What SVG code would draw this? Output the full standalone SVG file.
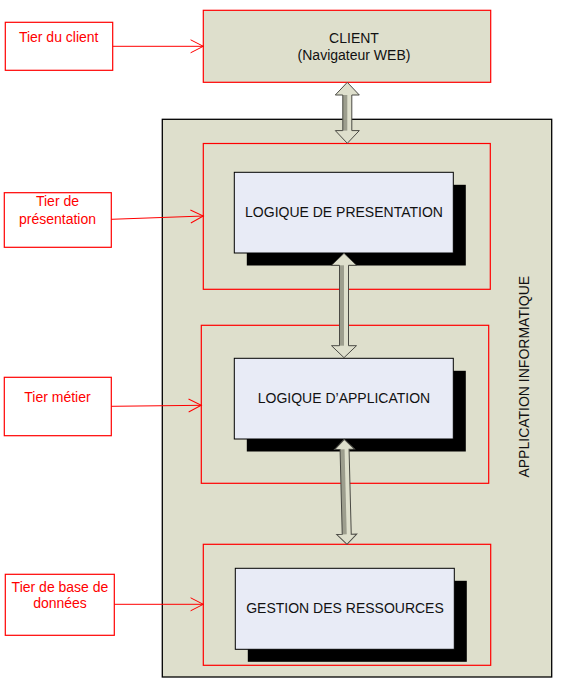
<svg xmlns="http://www.w3.org/2000/svg" width="563" height="684" viewBox="0 0 563 684">
<style>
  .tier { fill: #ffffff; stroke: #ff0000; stroke-width: 1.2; }
  .tiertxt { fill: #ff0000; font-family: "Liberation Sans", Arial, sans-serif; font-size: 14px; text-anchor: middle; }
  .layer { fill: #dedfcc; stroke: #ff0000; stroke-width: 1.2; }
  .outer { fill: #dedfcc; stroke: #000000; stroke-width: 1.3; }
  .box { fill: #e8ebf6; stroke: #000000; stroke-width: 1; }
  .shadow { fill: #000000; }
  .txt { fill: #111111; font-family: "Liberation Sans", Arial, sans-serif; font-size: 14px; text-anchor: middle; }
  .link { fill: none; stroke: #ff0000; stroke-width: 1; marker-end: url(#chev); }
  .dafill { fill: #dedfcc; }
  .dashade { fill: #9d9e8e; }
  .daline { fill: none; stroke: #4a4a44; stroke-width: 1; stroke-linejoin: miter; }
</style>
<defs>
  <marker id="chev" markerUnits="userSpaceOnUse" viewBox="-15 -8 17 16" refX="0" refY="0" markerWidth="17" markerHeight="16" orient="auto">
    <path d="M-12.7,-6.5 L0,0 L-12.7,6.5" fill="none" stroke="#ff0000" stroke-width="1"/>
  </marker>
  <path id="da61" d="M0,0 L12,12.7 L4.5,12.7 L4.5,48.3 L12,48.3 L0,61 L-12,48.3 L-4.5,48.3 L-4.5,12.7 L-12,12.7 Z"/>
  <path id="da104" d="M0,0 L12.5,12 L4.5,12 L4.5,92.4 L12.5,92.4 L0,104.4 L-12.5,92.4 L-4.5,92.4 L-4.5,12 L-12.5,12 Z"/>
  <path id="da105" d="M0,0 L10,10 L4.5,10 L4.5,95 L10,95 L0,105 L-10,95 L-4.5,95 L-4.5,10 L-10,10 Z"/>
</defs>

<g id="application-informatique">
  <rect class="outer" x="162.3" y="119.3" width="389.4" height="557.7"/>
  <text class="txt" transform="translate(529.3,376.7) rotate(-90)">APPLICATION INFORMATIQUE</text>
</g>

<g id="client">
  <rect class="layer" x="203.3" y="10.3" width="287.4" height="72"/>
  <text class="txt" x="354" y="42.7">CLIENT</text>
  <text class="txt" x="354" y="60">(Navigateur WEB)</text>
</g>

<g id="tier-presentation-layer">
  <rect class="layer" x="203.3" y="143.5" width="287" height="145.8"/>
</g>
<g id="logique-presentation">
  <rect class="shadow" x="246.8" y="184.8" width="219" height="80.7"/>
  <rect class="box" x="234.3" y="172.3" width="219" height="80.7"/>
  <text class="txt" x="344" y="216.7">LOGIQUE DE PRESENTATION</text>
</g>

<g id="tier-metier-layer">
  <rect class="layer" x="201.3" y="325.3" width="287.4" height="158"/>
</g>
<g id="logique-application">
  <rect class="shadow" x="246.8" y="370.8" width="219" height="80.7"/>
  <rect class="box" x="234.3" y="358.3" width="219" height="80.7"/>
  <text class="txt" x="344" y="402.7">LOGIQUE D’APPLICATION</text>
</g>

<g id="tier-donnees-layer">
  <rect class="layer" x="203.3" y="544.3" width="287.4" height="121"/>
</g>
<g id="gestion-ressources">
  <rect class="shadow" x="247.8" y="580.8" width="219" height="81"/>
  <rect class="box" x="235.3" y="568.3" width="219" height="81"/>
  <text class="txt" x="345" y="612.7">GESTION DES RESSOURCES</text>
</g>

<g id="tier-du-client">
  <rect class="tier" x="5.3" y="22.3" width="107.4" height="48"/>
  <text class="tiertxt" x="58.7" y="42.3">Tier du client</text>
</g>
<g id="tier-de-presentation">
  <rect class="tier" x="4.3" y="192.7" width="107" height="54.6"/>
  <text class="tiertxt" x="57.5" y="206">Tier de</text>
  <text class="tiertxt" x="57.5" y="224.3">présentation</text>
</g>
<g id="tier-metier">
  <rect class="tier" x="4.3" y="377.3" width="107" height="58.4"/>
  <text class="tiertxt" x="57.5" y="402.3">Tier métier</text>
</g>
<g id="tier-base-donnees">
  <rect class="tier" x="5.3" y="574.3" width="109" height="61"/>
  <text class="tiertxt" x="60" y="591.7">Tier de base de</text>
  <text class="tiertxt" x="60" y="608.3">données</text>
</g>

<g id="connectors">
  <line class="link" x1="112.7" y1="46.3" x2="203.3" y2="46.3"/>
  <line class="link" x1="111.3" y1="219.3" x2="203.3" y2="216"/>
  <line class="link" x1="111.3" y1="406.3" x2="201.3" y2="405.3"/>
  <line class="link" x1="114.3" y1="604.3" x2="203.3" y2="604.3"/>

  <g transform="translate(347.3,82.3)">
    <use href="#da61" class="dafill"/>
    <rect class="dashade" x="-4.5" y="12.7" width="4.5" height="35.6"/>
    <use href="#da61" class="daline"/>
  </g>
  <g transform="translate(344,253.3)">
    <use href="#da104" class="dafill"/>
    <rect class="dashade" x="-4.5" y="12" width="4.5" height="80.4"/>
    <use href="#da104" class="daline"/>
  </g>
  <g transform="translate(344.3,439.3) rotate(-1.47)">
    <use href="#da105" class="dafill"/>
    <rect class="dashade" x="-4.5" y="10" width="4.5" height="85"/>
    <use href="#da105" class="daline"/>
  </g>
</g>
</svg>
